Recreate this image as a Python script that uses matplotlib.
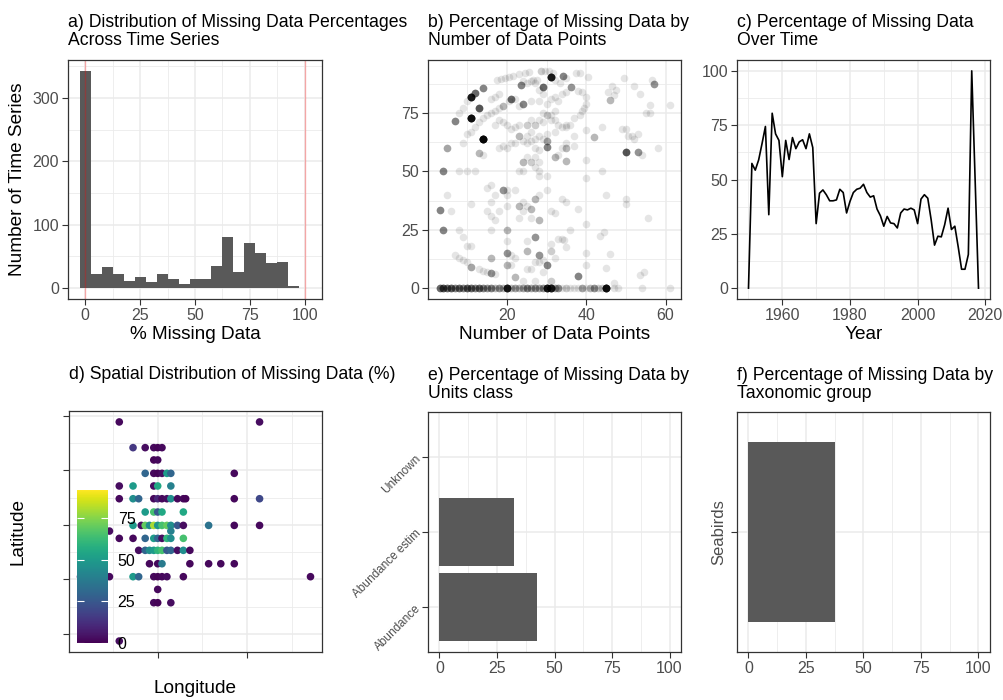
import numpy as np
import matplotlib
matplotlib.use("Agg")
import matplotlib.pyplot as plt
from matplotlib.ticker import MultipleLocator, FixedLocator

plt.rcParams['font.family'] = ['Liberation Sans', 'DejaVu Sans']

# a) histogram of % missing (bins of width 5)
bin_mid = [0, 5, 10, 15, 20, 25, 30, 35, 40, 45, 50, 55, 60, 65, 70, 75, 80, 85, 90, 95]
hist_counts = [343, 23, 33, 22, 11, 17, 9, 22, 15, 6, 15, 14, 35, 81, 25, 72, 56, 40, 42, 4]

# b) % missing vs number of data points (n = overlapping series)
zero_x = [3, 4, 5, 6, 7, 8, 9, 10, 11, 12, 13, 14, 15, 16, 17, 18, 19, 20, 21, 22,
          23, 24, 25, 26, 27, 28, 29, 30, 31, 32, 33, 34, 35, 36, 37, 38, 39, 40, 41, 42,
          43, 44, 45, 47, 48, 54, 61]
zero_n = [8, 10, 8, 9, 6, 8, 6, 9, 8, 6, 8, 6, 5, 6, 3, 5, 3, 20, 3, 4,
          3, 4, 6, 4, 5, 4, 5, 20, 20, 4, 5, 1, 2, 1, 1, 1, 4, 1, 3, 5,
          2, 2, 25, 1, 1, 1, 1]
pts_x = [17.5, 18.5, 19.5, 20.5, 21.5, 23, 24.5, 25.5, 26.5, 27.5,
         28.5, 29.5, 30.5, 31.5, 32, 33.5, 35, 37.5, 38.5, 40.5,
         45.5, 46.5, 49.5, 52, 53.5, 56.5, 57, 23.5, 29, 31,
         34.2, 36.2, 34, 35, 38, 39, 40, 40, 39.5, 39,
         38.5, 37, 36, 35, 40, 44, 46, 47, 47.5, 50,
         50.5, 51.5, 53, 55, 56, 58, 61, 55.5, 54.5, 53.5,
         46, 45, 44.5, 43.5, 44, 45, 50, 50, 47, 40,
         40, 40, 40, 40, 38, 38, 36, 35, 34, 34.5,
         35, 34, 33, 32, 31, 31, 32, 31, 30, 30,
         30, 30, 30, 29, 28, 28, 28, 27, 27, 26,
         25, 24, 23, 22, 21, 20, 19, 18, 17, 18,
         19, 20, 21, 22, 23, 25, 26, 27, 28, 29,
         30, 31, 32, 33, 32, 31, 29, 28, 27, 26,
         25, 24, 22, 21, 20.5, 19, 18, 17, 16, 15,
         14, 13, 12, 11, 10, 9, 10, 11, 12, 13,
         11, 14, 14, 16, 17, 18, 7, 8, 9, 5,
         4, 3, 4, 5, 6, 8, 9, 10, 11, 12,
         10, 8, 13, 14, 15, 16, 17, 16, 15, 16,
         17, 16, 18, 19, 20, 20, 20, 20, 20, 20,
         21, 22, 21, 22, 23, 23, 24, 24, 25, 26,
         26, 27, 28, 28, 28, 27, 25, 25, 25, 26,
         27, 28, 29, 29, 27, 24, 31, 16, 16, 17,
         15, 14, 13, 11, 10, 9, 8, 7, 11, 26,
         25, 27, 28, 24, 32, 35, 35, 33, 29, 30,
         23, 24, 22, 20, 26, 27, 28, 25, 24, 23,
         26, 28, 30, 31, 32, 33, 34, 35, 32, 37,
         34, 35, 37, 50, 53, 42, 54, 52, 56, 49]
pts_y = [89, 89.5, 90, 90.5, 91, 91.5, 92, 92.5, 89, 89,
         93, 93, 93, 92, 89, 88, 90, 92, 92, 90.5,
         84, 86.5, 90, 86.5, 83, 89, 87.5, 87, 86.3, 90.3,
         91, 86, 83, 84, 84.5, 84, 82, 79, 77, 76,
         74, 73, 70, 69, 67.5, 69, 80.5, 82.5, 85, 68,
         65, 65, 66, 75, 78.5, 60, 78.5, 30, 7, 5.5,
         14.5, 8.5, 24, 22.5, 50, 40, 38, 36, 2, 27.5,
         15, 10, 55, 47, 34, 5.3, 25, 37, 38, 20.5,
         17.5, 21, 21, 13, 16, 19, 32, 33, 42, 10,
         63, 60.3, 66, 64, 59, 50, 48, 52, 60, 63,
         62, 63, 65, 62, 62, 60, 61, 60, 70, 72,
         71, 70, 68, 69, 70, 70, 72, 70, 72, 75,
         74, 74, 76, 80, 82, 81, 83, 85, 88, 88.5,
         88, 88.5, 81, 81, 80, 78, 77, 76, 75, 74,
         73, 71, 69, 67, 66, 62, 80, 82, 83.5, 77,
         73, 64, 85.8, 81, 82, 83, 71.4, 75, 77, 60,
         50, 33.4, 25, 40, 33, 25, 22, 18, 36, 50,
         50, 50, 58, 57, 43, 44, 40, 37, 33, 31,
         29, 25, 33, 42, 40, 35, 25, 20, 15, 10,
         10, 4.8, 14, 13, 30, 35, 37, 33, 35, 34,
         30, 38, 29, 40, 14, 22, 16, 20, 8, 8,
         11, 11, 12, 7, 3, 3, 3, 12.7, 6.4, 6,
         7, 7.5, 8, 9.1, 11, 12, 13, 14, 18, 54,
         56, 56, 54, 54, 56, 54.3, 60, 57, 71, 48,
         50, 50, 42, 42, 67, 64, 65, 65, 79, 78,
         80, 80, 79, 72, 72, 70, 69, 70, 67, 61,
         60, 62, 65, 58.2, 58.3, 64.6, 57, 64, 75, 68]
pts_n = [1, 1, 1, 1, 1, 1, 1, 1, 1, 1,
         2, 1, 1, 1, 1, 1, 1, 1, 1, 1,
         1, 1, 1, 1, 1, 1, 5, 6, 8, 20,
         6, 5, 1, 1, 1, 1, 1, 1, 1, 1,
         1, 1, 1, 1, 1, 1, 3, 1, 1, 1,
         1, 1, 1, 1, 1, 1, 1, 1, 1, 1,
         1, 1, 1, 1, 1, 1, 1, 1, 1, 1,
         1, 1, 1, 1, 1, 6, 1, 1, 1, 1,
         1, 1, 1, 1, 2, 1, 1, 1, 1, 6,
         4, 6, 1, 1, 1, 1, 1, 1, 1, 1,
         1, 1, 3, 1, 1, 1, 1, 1, 1, 1,
         1, 1, 1, 1, 1, 2, 1, 2, 1, 1,
         2, 1, 1, 1, 1, 1, 1, 1, 1, 1,
         1, 1, 1, 8, 1, 3, 1, 1, 1, 1,
         1, 1, 1, 1, 1, 1, 1, 20, 8, 10,
         25, 30, 6, 1, 1, 1, 6, 1, 1, 4,
         6, 6, 6, 1, 1, 1, 1, 1, 1, 1,
         1, 1, 3, 1, 1, 1, 1, 1, 1, 1,
         1, 1, 1, 5, 1, 1, 3, 1, 5, 3,
         1, 3, 1, 1, 1, 3, 1, 1, 1, 3,
         1, 3, 3, 1, 5, 5, 3, 1, 1, 1,
         1, 1, 1, 1, 1, 1, 2, 3, 5, 1,
         1, 1, 1, 4, 1, 1, 1, 1, 1, 2,
         1, 1, 1, 3, 3, 3, 3, 1, 1, 1,
         1, 1, 1, 1, 1, 1, 1, 1, 6, 1,
         1, 1, 1, 1, 1, 1, 1, 1, 1, 1,
         1, 1, 1, 10, 5, 3, 1, 1, 1, 1]

# c) yearly % missing
years = list(range(1950, 2019))
pct_year = [0, 57.4, 54.3, 59, 66.5, 74.4, 33.8, 80.5, 71, 68,
            51.3, 68, 59.2, 69.3, 64.2, 67.3, 68.3, 64.2, 71, 64.7,
            29.7, 43.7, 45.2, 43, 40.2, 40.2, 40.6, 45.5, 44, 34.6,
            39.9, 44, 45.5, 46, 47.8, 44, 41.9, 42.5, 36.4, 33.3,
            28.5, 33, 30, 29.7, 27.7, 34.6, 36.4, 36, 36.8, 36,
            29.7, 41, 43, 41.4, 31.5, 19.8, 23.9, 23.6, 29.2, 36.8,
            27, 28.5, 19, 8.7, 8.7, 15.5, 100, 50, 0]

# d) spatial
lon = [-4.3, 11.4, -2.76, -1.4, -0.44, 0, 0.48, -0.44, 0,
       -1.4, -0.44, 0, 0.48, 1.03, 1.47, 8.57,
       -4.3, -2.76, -0.44, 0, 1.47,
       -4.3, -2.76, -2.13, -0.44, 0, 0.48, 1.03, 1.47, 2.21, 2.87, 3.13, 8.57, 11.4,
       -1.4, -0.44, 0, 0.48, 2.87,
       -2.76, -1.84, -1.4, -0.92, -0.44, 0, 0.48, 1.03, 1.47, 2.21, 2.87, 5.7, 8.57, 11.4,
       1.47, -5.4,
       -4.3, -2.76, -1.4, -0.44, 0, 0.48, 1.03, 1.47, 2.87,
       -2.13, -1.4, -0.92, -0.44, 0, 0.48, 1.03, 1.47, 2.21, 2.87, 3.6,
       -0.92, 0, 0.48, 3.6, 5.7, 7.06, 8.57,
       -8.64, -5.4, -2.76, -2.13, -0.44, 0, 0.48, 1.03, 2.87, 17.1,
       0, -0.44, 0, 1.47, -4.3]
lat = [64.45, 64.45, 62.09, 62.09, 62.09, 62.09, 62.09, 60.96, 60.96,
       59.73, 59.73, 59.73, 59.73, 59.73, 59.73, 59.73,
       58.57, 58.57, 58.57, 58.57, 58.57,
       57.4, 57.4, 57.4, 57.4, 57.4, 57.4, 57.4, 57.4, 57.4, 57.4, 57.4, 57.4, 57.4,
       56.18, 56.18, 56.18, 56.18, 56.18,
       54.95, 54.95, 54.95, 54.95, 54.95, 54.95, 54.95, 54.95, 54.95, 54.95, 54.95, 54.95, 54.95, 54.95,
       54.43, 54.43,
       53.76, 53.76, 53.76, 53.76, 53.76, 53.76, 53.76, 53.76, 53.76,
       52.66, 52.66, 52.66, 52.66, 52.66, 52.66, 52.66, 52.66, 52.66, 52.66, 52.66,
       51.43, 51.43, 51.43, 51.43, 51.43, 51.43, 51.43,
       50.24, 50.24, 50.24, 50.24, 50.24, 50.24, 50.24, 50.24, 50.24, 50.24,
       49.07, 47.85, 47.85, 47.85, 44.33]
pct_site = [2, 3, 15, 3, 2, 1, 2, 1, 2,
            30, 2, 1, 3, 50, 30, 2,
            3, 50, 3, 55, 40,
            2, 45, 30, 2, 10, 2, 3, 45, 2, 2, 1, 2, 20,
            50, 65, 25, 55, 55,
            50, 3, 70, 45, 80, 48, 65, 70, 45, 25, 3, 35, 2, 2,
            40, 3,
            2, 2, 30, 50, 30, 3, 60, 45, 65,
            3, 30, 45, 50, 60, 65, 25, 30, 3, 45, 2,
            2, 2, 38, 2, 2, 2, 2,
            2, 2, 50, 30, 2, 1, 2, 3, 2, 2,
            2, 2, 1, 3, 3]

# e) units class, f) taxonomic group
units = ["Abundance", "Abundance estim", "Unknown"]
units_pct = [42.3, 32.2, 0]
taxa = ["Seabirds"]
taxa_pct = [37.7]

W, H = 1004, 700
GREY = '#595959'


def box(l, t, r, b):
    return [l / W, 1 - b / H, (r - l) / W, (b - t) / H]


def bw(ax):
    ax.set_axisbelow(True)
    ax.grid(which='major', color='#EBEBEB', lw=1.1)
    ax.grid(which='minor', color='#EBEBEB', lw=0.6)
    for s in ax.spines.values():
        s.set_color('#333333')
        s.set_linewidth(0.9)
    ax.tick_params(which='major', length=4, width=0.8, color='#333333',
                   labelsize=11.5, labelcolor='#4D4D4D', pad=2.5)
    ax.tick_params(which='minor', length=0)


def title(ax, txt, pad):
    ax.set_title(txt, loc='left', fontsize=12.7, pad=pad, linespacing=1.1)


def labels(ax, xl, yl, xy, yx):
    if xl:
        ax.set_xlabel(xl, fontsize=13.7)
        ax.xaxis.label.set_va('center')
        ax.xaxis.set_label_coords(0.5, xy)
    if yl:
        ax.set_ylabel(yl, fontsize=13.7)
        ax.yaxis.label.set_va('center')
        ax.yaxis.set_label_coords(yx, 0.5)


fig = plt.figure(figsize=(W / 100, H / 100), dpi=100)

# a
ax = fig.add_axes(box(68, 60, 322, 299))
bw(ax)
ax.bar(bin_mid, hist_counts, width=5, color=GREY, lw=0)
ax.axvline(0, color='red', alpha=0.3, lw=1)
ax.axvline(100, color='red', alpha=0.3, lw=1)
ax.set_xlim(-7.75, 107.75)
ax.set_ylim(-0.05 * max(hist_counts), 1.05 * max(hist_counts))
ax.xaxis.set_major_locator(MultipleLocator(25))
ax.xaxis.set_minor_locator(MultipleLocator(12.5))
ax.yaxis.set_major_locator(MultipleLocator(100))
ax.yaxis.set_minor_locator(MultipleLocator(50))
title(ax, "a) Distribution of Missing Data Percentages\nAcross Time Series", 10.8)
labels(ax, "% Missing Data", "Number of Time Series", -0.1506, -0.197)

# b
ax = fig.add_axes(box(428, 60, 681, 299))
bw(ax)
bx = np.repeat(zero_x + pts_x, zero_n + pts_n)
by = np.repeat([0] * len(zero_x) + pts_y, zero_n + pts_n)
ax.scatter(bx, by, s=30, color='black', alpha=0.1, lw=0)
ax.xaxis.set_major_locator(FixedLocator([20, 40, 60]))
ax.xaxis.set_minor_locator(FixedLocator([10, 30, 50]))
ax.yaxis.set_major_locator(MultipleLocator(25))
ax.yaxis.set_minor_locator(MultipleLocator(12.5))
title(ax, "b) Percentage of Missing Data by\nNumber of Data Points", 10.8)
labels(ax, "Number of Data Points", None, -0.1506, 0)

# c
ax = fig.add_axes(box(737, 60, 990, 299))
bw(ax)
ax.plot(years, pct_year, color='black', lw=1.2)
ax.xaxis.set_major_locator(MultipleLocator(20))
ax.xaxis.set_minor_locator(MultipleLocator(10))
ax.yaxis.set_major_locator(MultipleLocator(25))
ax.yaxis.set_minor_locator(MultipleLocator(12.5))
title(ax, "c) Percentage of Missing Data\nOver Time", 10.8)
labels(ax, "Year", None, -0.1506, 0)

# d
ax = fig.add_axes(box(69, 411, 322, 652))
bw(ax)
sc = ax.scatter(lon, lat, c=pct_site, cmap='viridis', vmin=0, vmax=92, s=30, lw=0)
ax.xaxis.set_major_locator(MultipleLocator(10))
ax.xaxis.set_minor_locator(MultipleLocator(5))
ax.yaxis.set_major_locator(MultipleLocator(5))
ax.yaxis.set_minor_locator(MultipleLocator(2.5))
ax.tick_params(labelbottom=False, labelleft=False)
title(ax, "d) Spatial Distribution of Missing Data (%)", 23)
labels(ax, "Longitude", "Latitude", -0.1535, -0.2016)
cax = fig.add_axes(box(77, 490, 108, 643))
cb = fig.colorbar(sc, cax=cax, ticks=[0, 25, 50, 75])
cb.outline.set_visible(False)
cax.tick_params(axis='y', direction='in', length=5, width=0.8, color='white',
                left=True, right=True, labelleft=False, labelright=True,
                labelsize=11.5, labelcolor='black', pad=7)

# e
ax = fig.add_axes(box(428, 412, 681, 652))
bw(ax)
ax.barh(units, units_pct, height=0.9, color=GREY, lw=0)
ax.set_xlim(-5, 105)
ax.set_ylim(-0.6, 2.6)
ax.xaxis.set_major_locator(MultipleLocator(25))
ax.xaxis.set_minor_locator(MultipleLocator(12.5))
ax.tick_params(axis='y', labelsize=8.5)
plt.setp(ax.get_yticklabels(), rotation=45, ha='right', va='center', rotation_mode='anchor')
title(ax, "e) Percentage of Missing Data by\nUnits class", 10)

# f
ax = fig.add_axes(box(737, 412, 990, 652))
bw(ax)
ax.barh(taxa, taxa_pct, height=0.9, color=GREY, lw=0)
ax.set_xlim(-5, 105)
ax.set_ylim(-0.6, 0.6)
ax.xaxis.set_major_locator(MultipleLocator(25))
ax.xaxis.set_minor_locator(MultipleLocator(12.5))
ax.tick_params(axis='y', labelsize=12, pad=4)
plt.setp(ax.get_yticklabels(), rotation=90, ha='right', va='center')
title(ax, "f) Percentage of Missing Data by\nTaxonomic group", 10)

fig.savefig("out.png", dpi=100)
